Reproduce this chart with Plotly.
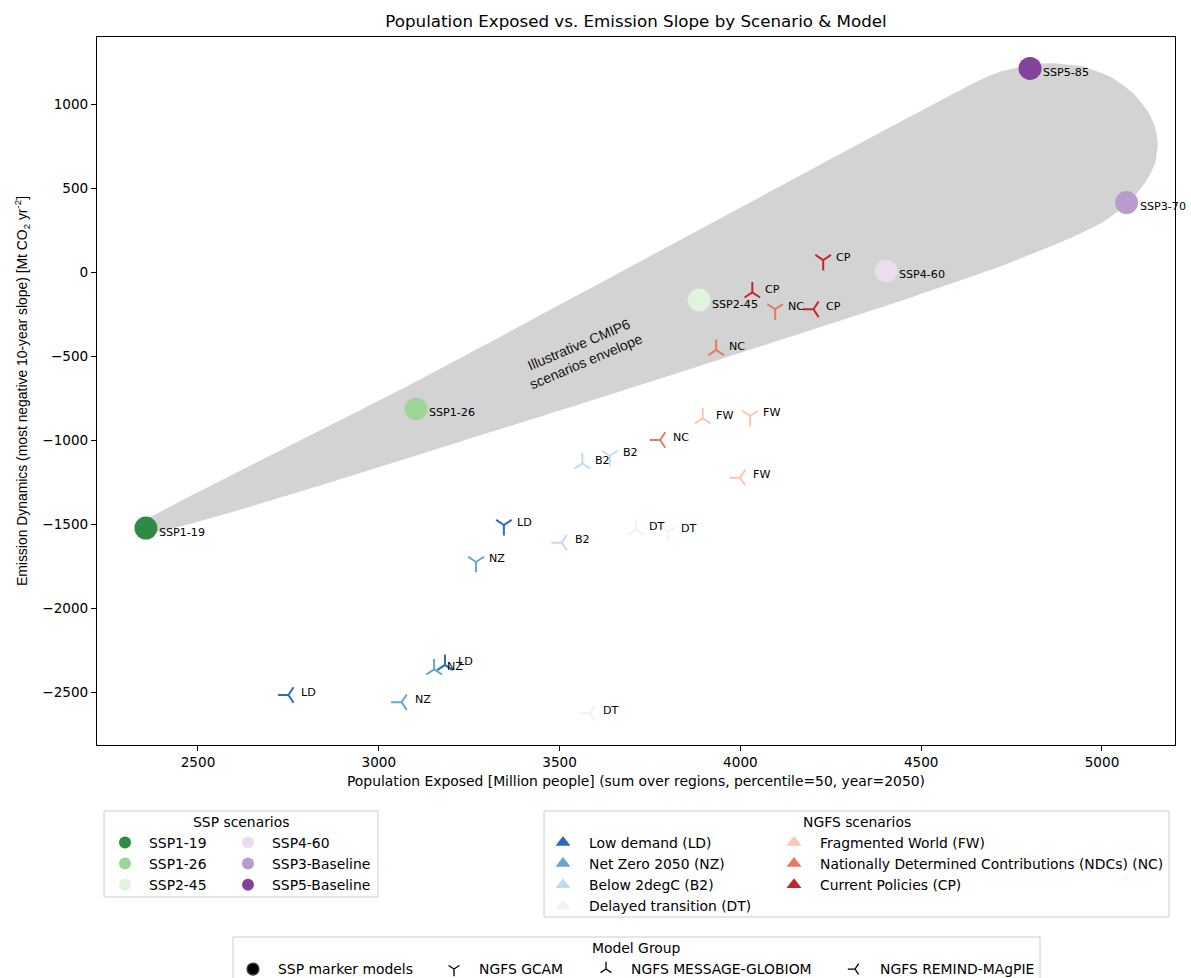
import plotly.graph_objects as go

FONT = "DejaVu Sans"
SANS = "Liberation Sans"

# ---- SSP marker-model scenarios ----
ssp_labels = ["SSP1-19", "SSP1-26", "SSP2-45", "SSP4-60", "SSP3-70", "SSP5-85"]
ssp_legend_names = ["SSP1-19", "SSP1-26", "SSP2-45", "SSP4-60", "SSP3-Baseline", "SSP5-Baseline"]
ssp_pop = [2356, 3103, 3886, 4403, 5068, 4801]
ssp_slope = [-1524, -815, -167, 6, 413, 1212]
ssp_colors = ["#2f8a45", "#9ed69a", "#e1f2dd", "#ecdcee", "#bb9bcb", "#81449a"]

# ---- NGFS scenarios ----
ngfs_codes = ["LD", "NZ", "B2", "DT", "FW", "NC", "CP"]
ngfs_names = [
    "Low demand (LD)",
    "Net Zero 2050 (NZ)",
    "Below 2degC (B2)",
    "Delayed transition (DT)",
    "Fragmented World (FW)",
    "Nationally Determined Contributions (NDCs) (NC)",
    "Current Policies (CP)",
]
ngfs_colors = ["#2a6db2", "#62a8d2", "#c3dcec", "#f2f2f2", "#f9c6ae", "#e47b61", "#c1272f"]

# NGFS model results, one value per scenario in ngfs_codes order
gcam_pop = [3346, 3269, 3639, 3801, 4027, 4096, 4229]
gcam_slope = [-1506, -1726, -1095, -1546, -857, -222, 71]
message_pop = [3183, 3153, 3563, 3711, 3896, 3933, 4033]
message_slope = [-2339, -2365, -1139, -1532, -871, -464, -121]
remind_pop = [2750, 3063, 3506, 3584, 3999, 3778, 4202]
remind_slope = [-2518, -2561, -1611, -2627, -1224, -1000, -222]

model_names = ["NGFS GCAM", "NGFS MESSAGE-GLOBIOM", "NGFS REMIND-MAgPIE"]
model_symbols = ["y-down-open", "y-up-open", "y-left-open"]

# ---- Illustrative CMIP6 scenario envelope outline ----
envelope_pop = [2336, 2356, 3095, 4663, 4718, 4801, 4856, 4947, 5022, 5086, 5124,
                5147, 5154, 5147, 5124, 5096, 5059, 5004, 4921, 4810, 4718, 4478,
                4110, 3390, 2356, 2336]
envelope_slope = [-1516, -1476, -661, 1143, 1192, 1232, 1242, 1222, 1163, 1064, 964,
                  865, 766, 647, 548, 468, 389, 299, 210, 111, 32, -147,
                  -405, -899, -1554, -1516]

x_ticks = [2500, 3000, 3500, 4000, 4500, 5000]
y_ticks = [-2500, -2000, -1500, -1000, -500, 0, 500, 1000]

fig = go.Figure()

# envelope
fig.add_trace(go.Scatter(
    x=envelope_pop, y=envelope_slope, mode="lines", fill="toself",
    fillcolor="#d3d3d3", line=dict(width=0, shape="spline", smoothing=0.6),
    hoverinfo="skip", showlegend=False,
))

# NGFS points, one trace per model
model_data = [(gcam_pop, gcam_slope), (message_pop, message_slope), (remind_pop, remind_slope)]
for (px, py), name, sym in zip(model_data, model_names, model_symbols):
    fig.add_trace(go.Scatter(
        x=px, y=py, mode="markers", name=name,
        marker=dict(symbol=sym, size=13, color=ngfs_colors, line=dict(width=2)),
        showlegend=False, cliponaxis=False,
    ))

# SSP marker models
fig.add_trace(go.Scatter(
    x=ssp_pop, y=ssp_slope, mode="markers", name="SSP marker models",
    marker=dict(symbol="circle", size=23, color=ssp_colors, line=dict(width=0)),
    showlegend=False, cliponaxis=False,
))

annotations = []
label_font = dict(family=FONT, size=11.1, color="black")
for px, py in model_data:
    for xv, yv, code in zip(px, py, ngfs_codes):
        annotations.append(dict(x=xv, y=yv, xref="x", yref="y", text=code,
                                showarrow=False, xanchor="left", yanchor="middle",
                                xshift=11, yshift=3, font=label_font))
for xv, yv, lab in zip(ssp_pop, ssp_slope, ssp_labels):
    annotations.append(dict(x=xv, y=yv, xref="x", yref="y", text=lab,
                            showarrow=False, xanchor="left", yanchor="middle",
                            xshift=11, yshift=-4, font=label_font))

annotations.append(dict(
    x=3562, y=-482, xref="x", yref="y",
    text="Illustrative CMIP6<br>scenarios envelope",
    showarrow=False, textangle=-23, align="center",
    font=dict(family=SANS, size=14, color="#111111"),
))

# ---- legends ----
PLOT_L, PLOT_R, PLOT_T, PLOT_B = 97, 1175, 37, 745


def xp(px):
    return (px - PLOT_L) / (PLOT_R - PLOT_L)


def yp(py):
    return (PLOT_B - py) / (PLOT_B - PLOT_T)


legend_font = dict(family=FONT, size=13.9, color="black")


def legend_cfg(left_px, top_px, itemwidth):
    return dict(x=xp(left_px), y=yp(top_px), xanchor="left", yanchor="top",
                orientation="v", bgcolor="rgba(0,0,0,0)", borderwidth=0,
                itemwidth=itemwidth, font=legend_font, traceorder="normal",
                itemclick=False, itemdoubleclick=False)


for i, (name, col) in enumerate(zip(ssp_legend_names, ssp_colors)):
    fig.add_trace(go.Scatter(
        x=[None], y=[None], mode="markers", name=name,
        marker=dict(symbol="circle", size=12, color=col),
        legend="legend" if i < 3 else "legend2", hoverinfo="skip",
    ))

for i, (name, col) in enumerate(zip(ngfs_names, ngfs_colors)):
    fig.add_trace(go.Scatter(
        x=[None], y=[None], mode="markers", name=name,
        marker=dict(symbol="triangle-up", size=13, color=col),
        legend="legend3" if i < 4 else "legend4", hoverinfo="skip",
    ))

group_names = ["SSP marker models"] + model_names
group_symbols = ["circle"] + model_symbols
group_sizes = [12, 9, 9, 9]
for i, (name, sym, sz) in enumerate(zip(group_names, group_symbols, group_sizes)):
    fig.add_trace(go.Scatter(
        x=[None], y=[None], mode="markers", name=name,
        marker=dict(symbol=sym, size=sz, color="black", line=dict(width=1.3)),
        legend=f"legend{5 + i}", hoverinfo="skip",
    ))

legend_layout = dict(
    legend=legend_cfg(101, 827, 38),
    legend2=legend_cfg(224, 827, 38),
    legend3=legend_cfg(537, 827, 42),
    legend4=legend_cfg(768, 827, 42),
    legend5=legend_cfg(228, 953.5, 40),
    legend6=legend_cfg(429, 953.5, 40),
    legend7=legend_cfg(581, 953.5, 40),
    legend8=legend_cfg(830, 953.5, 40),
)

box_style = dict(type="rect", xref="paper", yref="paper",
                 line=dict(color="#cccccc", width=1), fillcolor="rgba(255,255,255,0)",
                 layer="below")
shapes = [
    dict(x0=xp(104), x1=xp(378), y0=yp(897), y1=yp(811), **box_style),
    dict(x0=xp(544), x1=xp(1169), y0=yp(917), y1=yp(811), **box_style),
    dict(x0=xp(233), x1=xp(1040), y0=yp(995), y1=yp(937), **box_style),
]

for text, cx, cy in [("SSP scenarios", 241, 822), ("NGFS scenarios", 856.5, 822),
                     ("Model Group", 636.5, 948)]:
    annotations.append(dict(x=xp(cx), y=yp(cy), xref="paper", yref="paper", text=text,
                            showarrow=False, xanchor="center", yanchor="middle",
                            font=legend_font))

axis_common = dict(
    showgrid=False, zeroline=False, showline=True, mirror=True,
    linecolor="black", linewidth=1, ticks="outside", ticklen=5, tickwidth=1,
    tickcolor="black", tickfont=dict(family=FONT, size=13.6, color="black"),
)

fig.update_layout(
    width=1191, height=978, autosize=False,
    margin=dict(l=PLOT_L, r=1191 - PLOT_R, t=PLOT_T, b=978 - PLOT_B, autoexpand=False),
    paper_bgcolor="white", plot_bgcolor="white",
    title=dict(text="Population Exposed vs. Emission Slope by Scenario & Model",
               x=0.5, xref="paper", y=1 - 21 / 978, yref="container",
               xanchor="center", yanchor="middle",
               font=dict(family=FONT, size=16.7, color="black")),
    xaxis=dict(range=[2220.7, 5201.9], tickvals=x_ticks,
               title=dict(text="Population Exposed [Million people] (sum over regions, percentile=50, year=2050)",
                          font=dict(family=FONT, size=13.9, color="black"), standoff=6),
               **axis_common),
    yaxis=dict(range=[-2815.5, 1398.8], tickvals=y_ticks,
               title=dict(text="Emission Dynamics (most negative 10-year slope) [Mt CO<sub>2</sub> yr<sup>-2</sup>]",
                          font=dict(family=SANS, size=13.9, color="black"), standoff=11),
               **axis_common),
    annotations=annotations,
    shapes=shapes,
    hovermode=False,
    **legend_layout,
)

fig.write_html("out.html")
